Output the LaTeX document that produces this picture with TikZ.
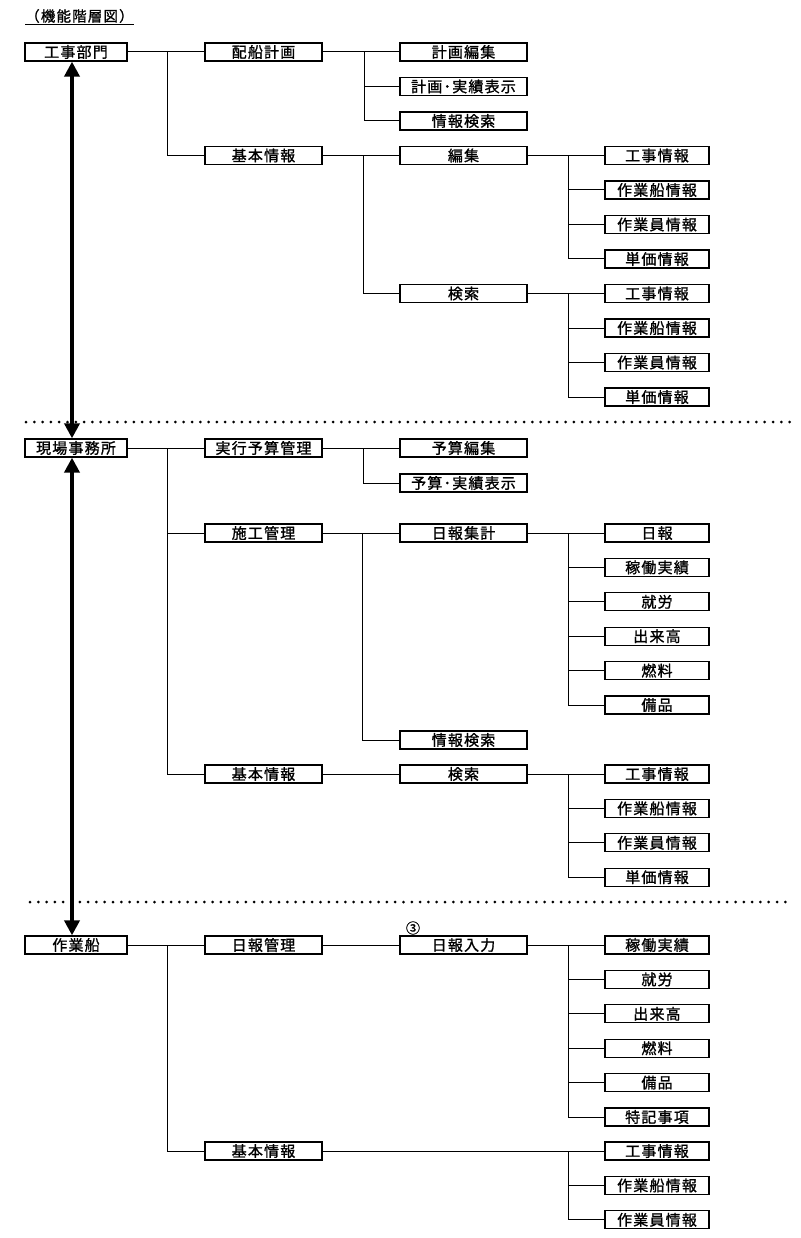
\documentclass[tikz,border=0pt]{standalone}
\usepackage{fontspec}
\usepackage{tikz}
\usetikzlibrary{arrows.meta,positioning}
\newfontfamily\jpfont[LetterSpace=8,FakeBold=1.2]{Noto Sans CJK JP}

\begin{document}
\begin{tikzpicture}[x=1pt,y=-1pt,
  func/.style={rectangle,draw,line width=1.3pt,minimum height=18pt,inner sep=0pt,font=\jpfont\fontsize{15}{16}\selectfont},
  lv1/.style={func,minimum width=102pt},
  lv2/.style={func,minimum width=117pt},
  lv3/.style={func,minimum width=127pt},
  lv4/.style={func,minimum width=104pt},
  link/.style={line width=1pt},
  bigarr/.style={{Triangle[length=15pt,width=15pt]}-{Triangle[length=15pt,width=15pt]},line width=3.8pt},
  sep/.style={line width=3pt,line cap=round,dash pattern=on 0pt off 8.3pt}
]
\useasboundingbox (0,0) rectangle (800,1238);

% Title
\node[anchor=west,inner sep=0pt,font=\jpfont\fontsize{14.5}{15}\selectfont] (title) at (25,17) {\underline{（機能階層図）}};

% Section 1
\node[lv1] (kojibu)   at (76,52)      {工事部門};
\node[lv2] (haisen)   at (263.5,52)   {配船計画};
\node[lv2] (kihon1)   at (263.5,155.5) {基本情報};
\node[lv3] (keikaku)  at (463.5,52)   {計画編集};
\node[lv3] (jisseki1) at (463.5,86.5) {計画･実績表示};
\node[lv3] (joken1)   at (463.5,121)  {情報検索};
\node[lv3] (henshu)   at (463.5,155.5) {編集};
\node[lv3] (kensaku1) at (463.5,293.5) {検索};
\foreach \t [count=\i] in {工事情報,作業船情報,作業員情報,単価情報}
  \node[lv4] (ha\i) at (657,{155.5+34.5*(\i-1)}) {\t};
\foreach \t [count=\i] in {工事情報,作業船情報,作業員情報,単価情報}
  \node[lv4] (ka\i) at (657,{293.5+34.5*(\i-1)}) {\t};

\draw[link] (kojibu.east) -- (haisen.west);
\draw[link] (kihon1.west) -- ++(-37,0) |- (kojibu.east);
\draw[link] (haisen.east) -- (keikaku.west);
\draw[link] (jisseki1.west) -- ++(-35,0) |- (haisen.east);
\draw[link] (joken1.west) -- ++(-35,0) |- (haisen.east);
\draw[link] (kihon1.east) -- (henshu.west);
\draw[link] (kensaku1.west) -- ++(-36,0) |- (kihon1.east);
\draw[link] (henshu.east) -- (ha1.west);
\draw[link] (kensaku1.east) -- (ka1.west);
\foreach \i in {2,3,4} {
  \draw[link] (ha\i.west) -- ++(-36,0) |- (henshu.east);
  \draw[link] (ka\i.west) -- ++(-36,0) |- (kensaku1.east);
}

\draw[sep] (26,422) -- (790,422);

% Section 2
\node[lv1] (genba)    at (76,448)     {現場事務所};
\node[lv2] (jikko)    at (263.5,448)  {実行予算管理};
\node[lv2] (seko)     at (263.5,533)  {施工管理};
\node[lv2] (kihon2)   at (263.5,774)  {基本情報};
\node[lv3] (yosanhen) at (463.5,448)  {予算編集};
\node[lv3] (yosanjis) at (463.5,483)  {予算･実績表示};
\node[lv3] (nippo)    at (463.5,533)  {日報集計};
\node[lv3] (joken2)   at (463.5,740)  {情報検索};
\node[lv3] (kensaku2) at (463.5,774)  {検索};
\foreach \t [count=\i] in {日報,稼働実績,就労,出来高,燃料,備品}
  \node[lv4] (nb\i) at (657,{533+34.4*(\i-1)}) {\t};
\foreach \t [count=\i] in {工事情報,作業船情報,作業員情報,単価情報}
  \node[lv4] (kb\i) at (657,{774+34.4*(\i-1)}) {\t};

\draw[link] (genba.east) -- (jikko.west);
\draw[link] (seko.west) -- ++(-37,0) |- (genba.east);
\draw[link] (kihon2.west) -- ++(-37,0) |- (genba.east);
\draw[link] (jikko.east) -- (yosanhen.west);
\draw[link] (yosanjis.west) -- ++(-36,0) |- (jikko.east);
\draw[link] (seko.east) -- (nippo.west);
\draw[link] (joken2.west) -- ++(-37,0) |- (seko.east);
\draw[link] (kihon2.east) -- (kensaku2.west);
\draw[link] (nippo.east) -- (nb1.west);
\foreach \i in {2,...,6}
  \draw[link] (nb\i.west) -- ++(-36,0) |- (nippo.east);
\draw[link] (kensaku2.east) -- (kb1.west);
\foreach \i in {2,3,4}
  \draw[link] (kb\i.west) -- ++(-36,0) |- (kensaku2.east);

\draw[sep] (30,902) -- (790,902);

% Section 3
\node[lv1] (sagyo)    at (76,945)     {作業船};
\node[lv2] (nippokan) at (263.5,945)  {日報管理};
\node[lv2] (kihon3)   at (263.5,1151) {基本情報};
\node[lv3] (nyuryoku) at (463.5,945)  {日報入力};
\node[font=\jpfont\fontsize{14}{15}\selectfont] (maru) at (413,928) {③};
\foreach \t [count=\i] in {稼働実績,就労,出来高,燃料,備品,特記事項}
  \node[lv4] (ni\i) at (657,{945+34.4*(\i-1)}) {\t};
\foreach \t [count=\i] in {工事情報,作業船情報,作業員情報}
  \node[lv4] (kc\i) at (657,{1151+34.4*(\i-1)}) {\t};

\draw[link] (sagyo.east) -- (nippokan.west);
\draw[link] (kihon3.west) -- ++(-37,0) |- (sagyo.east);
\draw[link] (nippokan.east) -- (nyuryoku.west);
\draw[link] (nyuryoku.east) -- (ni1.west);
\foreach \i in {2,...,6}
  \draw[link] (ni\i.west) -- ++(-36,0) |- (nyuryoku.east);
\draw[link] (kihon3.east) -- (kc1.west);
\foreach \i in {2,3}
  \draw[link] (kc\i.west) -- ++(-36,0) |- (kihon3.east);

% Arrows between levels
\draw[bigarr] ([xshift=-4pt]kojibu.south) -- ([xshift=-4pt]genba.north);
\draw[bigarr] ([xshift=-4pt]genba.south) -- ([xshift=-4pt]sagyo.north);

\end{tikzpicture}
\end{document}
